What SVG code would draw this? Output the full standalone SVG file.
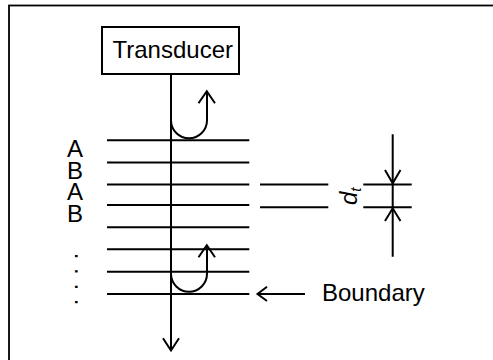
<svg xmlns="http://www.w3.org/2000/svg" width="493" height="360" viewBox="0 0 493 360">
<style>
  .ln{stroke:#000;stroke-width:2;fill:none}
  .ah{stroke:#000;stroke-width:2;fill:none;stroke-linejoin:miter}
  .t{font-family:"Liberation Sans",Arial,sans-serif;font-size:24px;fill:#000}
</style>
<rect x="0" y="0" width="493" height="360" fill="#fff"/>
<rect x="9" y="5.5" width="520" height="400" fill="none" stroke="#000" stroke-width="1.8"/>
<g id="transducer">
  <rect x="102" y="27" width="137" height="47" fill="#fff" stroke="#000" stroke-width="2"/>
  <text class="t" x="112.5" y="58">Transducer</text>
</g>
<g id="layers">
  <path class="ln" d="M107,140.3H249.3M107,162.5H249.3M107,184.5H249.3M107,205H249.3M107,227.3H249.3M107,249.3H249.3M107,271.7H249.3M107,294H249.3"/>
</g>
<g id="labels">
  <text class="t" x="75" y="157" text-anchor="middle">A</text>
  <text class="t" x="75" y="178.5" text-anchor="middle">B</text>
  <text class="t" x="75" y="200" text-anchor="middle">A</text>
  <text class="t" x="75" y="222" text-anchor="middle">B</text>
  <text class="t" transform="translate(74.6,252.7) rotate(90)" letter-spacing="8.7">....</text>
</g>
<g id="dimension">
  <path class="ln" d="M260,184.5H328.3M260,207.3H328.3M363.3,184.5H411.7M363.3,207.3H411.7M392.7,134.3V256.7"/>
  <path class="ah" d="M385,170L392.7,183.3L400.5,170M385,221L392.7,208.3L400.5,221"/>
  <text class="t" transform="translate(357,205) rotate(-90)" font-style="italic">d<tspan font-size="15" dy="4">t</tspan></text>
</g>
<g id="boundary">
  <path class="ln" d="M258,294H305"/>
  <path class="ah" d="M267,286.7L257.5,294L267,301"/>
  <text class="t" x="322" y="301">Boundary</text>
</g>
<g id="connectors">
  <path class="ln" d="M171,74V350"/>
  <path class="ah" d="M163,338.3L171,350.5L179,338.3"/>
  <path class="ln" d="M171,120.3A18,18 0 0 0 207,120.3V91.5"/>
  <path class="ah" d="M198.5,103.3L206.8,91.2L215,103.3"/>
  <path class="ln" d="M171,273.7A18,18 0 0 0 207,273.7V245.5"/>
  <path class="ah" d="M198.5,257.3L206.8,245.2L215,257.3"/>
</g>
</svg>
